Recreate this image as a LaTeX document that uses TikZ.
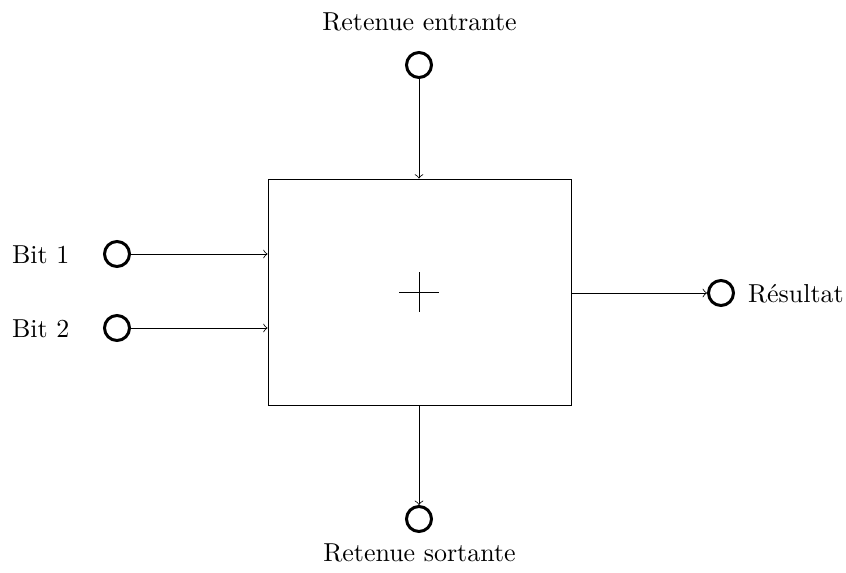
\documentclass[tikz,border=0pt]{standalone}
\usetikzlibrary{arrows}
\begin{document}
\begin{tikzpicture}[x=0.37pt,y=-0.37pt,
  port/.style={circle,draw,line width=1.1pt,minimum size=9.25pt,inner sep=0pt},
  link/.style={->,>=to,line width=0.3pt},
  lbl/.style={inner sep=0pt,font=\fontsize{9.6}{11.5}\selectfont}]
\useasboundingbox (0,0) rectangle (846,572);
% adder block
\node[draw,line width=0.3pt,minimum width=303*0.37pt,minimum height=226*0.37pt,inner sep=0pt] (add) at (419.5,292) {};
\draw[line width=0.3pt] (399,292) -- (439,292) (419,272) -- (419,312);
% ports
\node[port] (cin) at (419,65) {};
\node[port] (cout) at (419,519) {};
\node[port] (b1) at (117,254) {};
\node[port] (b2) at (117,328) {};
\node[port] (res) at (721,293) {};
% labels
\node[lbl] (tcin) at (419.5,22) {Retenue entrante};
\node[lbl] (tcout) at (419.5,553) {Retenue sortante};
\node[lbl,anchor=west] (tb1) at (11.5,255) {Bit 1};
\node[lbl,anchor=west] (tb2) at (11.5,329) {Bit 2};
\node[lbl,anchor=west] (tres) at (747.5,294) {Résultat};
% connections
\draw[link] (cin) -- (cin |- add.north);
\draw[link] (cout |- add.south) -- (cout);
\draw[link] (b1) -- (b1 -| add.west);
\draw[link] (b2) -- (b2 -| add.west);
\draw[link] (res -| add.east) -- (res);
\end{tikzpicture}
\end{document}
